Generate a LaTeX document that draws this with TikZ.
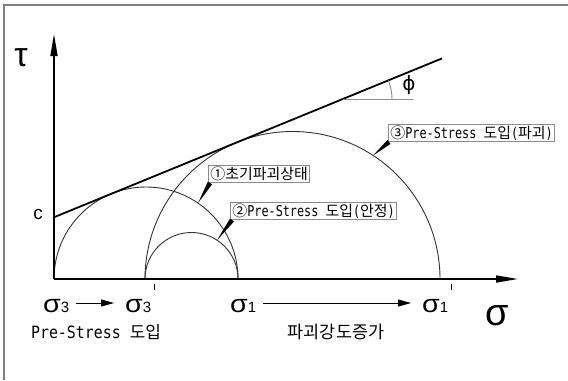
\documentclass[tikz,border=0pt]{standalone}
\usepackage{fontspec}
\setmainfont{Liberation Sans}
\newfontfamily\kr{Noto Sans CJK KR}
\newfontfamily\monoA[FakeStretch=0.79]{DejaVu Sans Mono}
\newfontfamily\monoB[FakeStretch=0.88]{DejaVu Sans Mono}
\newfontfamily\dv{DejaVu Sans}
\usetikzlibrary{arrows.meta,calc}
\newcommand\sgmlbl[1]{{\fontsize{25}{25}\selectfont\scalebox{1.15}[1]{σ}}{\fontsize{15}{15}\selectfont #1}}
\newcommand\prmtick{\hspace{2.5bp}\raisebox{22bp}{\rule{0.9bp}{6bp}}}
\begin{document}
\begin{tikzpicture}[x=1bp,y=1bp,
  axisline/.style={line width=1.5bp,-{Triangle[length=22bp,width=7bp]}},
  circ/.style={line width=0.9bp,draw=black!80},
  tang/.style={line width=1.8bp},
  refline/.style={line width=0.9bp,draw=black!45},
  lblbox/.style={draw=black!45,line width=0.8bp,inner xsep=2bp,inner ysep=1.5bp,anchor=south west,font=\fontsize{15}{15}\selectfont},
  wedgefill/.style={fill=black},
  sarrow/.style={line width=0.9bp,-{Triangle[length=13bp,width=7bp]}},
  plain/.style={inner sep=0pt}
  ]
\useasboundingbox (0,0) rectangle (568,380);
% frame
\draw[draw=black!50,line width=2bp] (4,0) -- (4,375) -- (568,375);
% coordinates
\coordinate (O) at (54,101);
\coordinate (ytip) at (54,346);
\coordinate (xtip) at (518,101);
\coordinate (cA) at (146,101);
\coordinate (cB) at (191.5,101);
\coordinate (cC) at (292.5,101);
% circles
\draw[circ] (54,101) arc[start angle=180,end angle=0,radius=92];
\draw[circ] (145,101) arc[start angle=180,end angle=0,radius=46.5];
\draw[circ] (145,101) arc[start angle=180,end angle=0,radius=147.5];
% axes
\draw[axisline] (O) -- (ytip);
\draw[axisline] (O) -- (xtip);
% tangent line
\coordinate (L0) at (54,162.75);
\coordinate (L1) at (442,321.6);
\draw[tang] (L0) -- (L1);
% phi
\coordinate (P0) at (343,281);
\coordinate (P1) at (413,281);
\draw[refline] (P0) -- (P1);
\draw[refline] (392,281) arc[start angle=0,end angle=22.26,radius=49];
\node[plain,font=\dv\fontsize{20}{20}\selectfont] (phi) at (409,295) {ϕ};
% axis labels
\node[plain,font=\fontsize{34}{34}\selectfont] (tau) at (21,322) {τ};
\node[plain,font=\fontsize{19}{19}\selectfont] (cl) at (38,166) {c};
\node[plain,anchor=base,font=\fontsize{38}{38}\selectfont] (sig) at (497,55) {σ};
% labels
\node[lblbox] (l1) at (208,197) {\kr ①초기파괴상태};
\node[lblbox] (l2) at (230,160) {{\kr ②}{\monoA Pre-Stress }{\kr 도입}{\monoA (}{\kr 안정}{\monoA )}};
\node[lblbox] (l3) at (388,238) {{\kr ③}{\monoA Pre-Stress }{\kr 도입}{\monoA (}{\kr 파괴}{\monoA )}};
% pointer wedges
\coordinate (p1) at ($(cA)+(55.6:92)$);
\coordinate (p2) at ($(cB)+(56.7:46.5)$);
\coordinate (p3) at ($(cC)+(56.9:147.5)$);
\coordinate (b1) at ($(l1.south west)+(2,0)$);
\coordinate (b2) at ($(l2.south west)+(2,0)$);
\coordinate (b3) at ($(l3.south west)+(1,0)$);
\fill[wedgefill] (p1) -- ($(b1)!2.5bp!90:(p1)$) -- ($(b1)!2.5bp!-90:(p1)$) -- cycle;
\fill[wedgefill] (p2) -- ($(b2)!2.5bp!90:(p2)$) -- ($(b2)!2.5bp!-90:(p2)$) -- cycle;
\fill[wedgefill] (p3) -- ($(b3)!2.5bp!90:(p3)$) -- ($(b3)!2.5bp!-90:(p3)$) -- cycle;
% bottom labels
\node[plain,anchor=base west] (s3) at (43,68) {\sgmlbl{3}};
\node[plain,anchor=base west] (s3p) at (125,68) {\sgmlbl{3}\prmtick};
\node[plain,anchor=base west] (s1) at (230,68) {\sgmlbl{1}};
\node[plain,anchor=base west] (s1p) at (422,68) {\sgmlbl{1}\prmtick};
\draw[sarrow] ($(s3.base east)+(7,9)$) -- ($(s3p.base west)+(-11,9)$);
\draw[sarrow] ($(s1.base east)+(7,9)$) -- ($(s1p.base west)+(-11,9)$);
\node[plain,anchor=base,font=\fontsize{17}{17}\selectfont] (t1) at (96,42) {{\monoB Pre-Stress }{\kr 도입}};
\node[plain,anchor=base,font=\fontsize{17.5}{17.5}\selectfont] (t2) at (336,42) {\kr 파괴강도증가};
\end{tikzpicture}
\end{document}
